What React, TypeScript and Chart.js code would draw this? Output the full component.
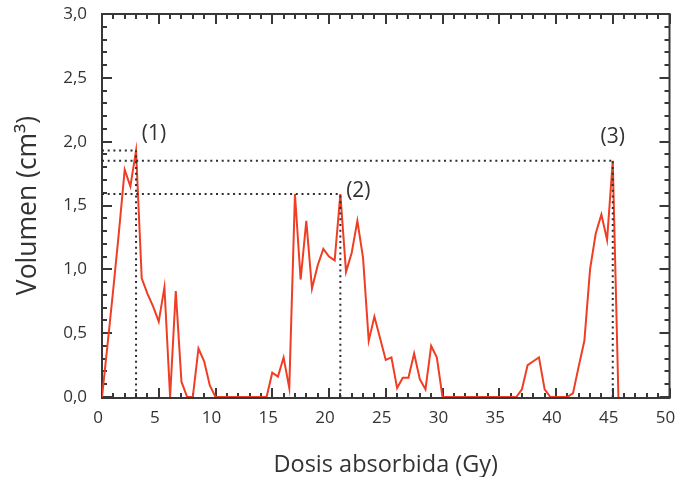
import React, { useEffect, useRef } from 'react';
import { Chart, registerables } from 'chart.js';

Chart.register(...registerables);

// Absorbed dose (Gy) sampled every 0.5 Gy
const doseGy = [
  0, 0.5, 1, 1.5, 2, 2.5, 3, 3.5, 4, 4.5, 5, 5.5, 6, 6.5, 7, 7.5, 8, 8.5, 9, 9.5,
  10, 10.5, 11, 11.5, 12, 12.5, 13, 13.5, 14, 14.5, 15, 15.5, 16, 16.5, 17, 17.5, 18, 18.5, 19, 19.5,
  20, 20.5, 21, 21.5, 22, 22.5, 23, 23.5, 24, 24.5, 25, 25.5, 26, 26.5, 27, 27.5, 28, 28.5, 29, 29.5,
  30, 30.5, 31, 31.5, 32, 32.5, 33, 33.5, 34, 34.5, 35, 35.5, 36, 36.5, 37, 37.5, 38, 38.5, 39, 39.5,
  40, 40.5, 41, 41.5, 42, 42.5, 43, 43.5, 44, 44.5, 45, 45.5,
];

// Volume (cm3)
const volumeCm3 = [
  0, 0.42, 0.85, 1.3, 1.78, 1.65, 1.93, 0.93, 0.81, 0.71, 0.59, 0.86, 0, 0.83, 0.12, 0, 0, 0.38, 0.28, 0.09,
  0, 0, 0, 0, 0, 0, 0, 0, 0, 0, 0.19, 0.16, 0.31, 0.07, 1.59, 0.92, 1.38, 0.85, 1.03, 1.16,
  1.1, 1.07, 1.59, 0.98, 1.13, 1.38, 1.09, 0.44, 0.63, 0.46, 0.29, 0.31, 0.07, 0.15, 0.15, 0.34, 0.14, 0.06, 0.4, 0.31,
  0, 0, 0, 0, 0, 0, 0, 0, 0, 0, 0, 0, 0, 0, 0.06, 0.25, 0.28, 0.31, 0.06, 0,
  0, 0, 0, 0.03, 0.24, 0.44, 1.0, 1.28, 1.43, 1.23, 1.85, 0,
];

// Marked peaks
const peakDose = [3, 21, 45];
const peakVolume = [1.93, 1.59, 1.85];
const peakLabels = ['(1)', '(2)', '(3)'];

const xMin = 0;
const xMax = 50;
const xStep = 5;
const yMin = 0;
const yMax = 3;
const yStep = 0.5;

const xTitle = 'Dosis absorbida (Gy)';
const yTitle = 'Volumen (cm³)';

const TEXT = '#333333';
const AXIS = '#383838';
const RED = '#ef3e23';
const FONT = '"Open Sans", "Noto Sans", sans-serif';

const labelOffsets = [
  [18, -17],
  [18, -3],
  [0, -24],
];

const frameTicks = {
  id: 'frameTicks',
  beforeDatasetsDraw(chart: any) {
    const { ctx, chartArea } = chart;
    const { left, right, top, bottom } = chartArea;
    const xs = chart.scales.x;
    const ys = chart.scales.y;
    ctx.save();
    ctx.strokeStyle = AXIS;
    ctx.lineWidth = 2;
    ctx.lineCap = 'butt';
    ctx.strokeRect(left, top, right - left, bottom + 1 - top);
    ctx.beginPath();
    for (let v = xMin; v <= xMax; v += 1) {
      const px = Math.round(xs.getPixelForValue(v));
      const len = v % xStep === 0 ? 10 : 5;
      ctx.moveTo(px, bottom + 1);
      ctx.lineTo(px, bottom + 1 - len);
      ctx.moveTo(px, top);
      ctx.lineTo(px, top + len);
    }
    for (let i = 0; i <= Math.round((yMax - yMin) * 10); i++) {
      const v = yMin + i / 10;
      const py = Math.round(ys.getPixelForValue(v));
      const len = i % 5 === 0 ? 10 : 5;
      ctx.moveTo(left, py);
      ctx.lineTo(left + len, py);
      ctx.moveTo(right, py);
      ctx.lineTo(right - len, py);
    }
    ctx.stroke();
    ctx.restore();
  },
  afterDatasetsDraw(chart: any) {
    const { ctx } = chart;
    const xs = chart.scales.x;
    const ys = chart.scales.y;
    ctx.save();
    ctx.fillStyle = TEXT;
    ctx.font = `21px ${FONT}`;
    ctx.textAlign = 'center';
    ctx.textBaseline = 'middle';
    peakLabels.forEach((t, i) => {
      const px = xs.getPixelForValue(peakDose[i]) + labelOffsets[i][0];
      const py = ys.getPixelForValue(peakVolume[i]) + labelOffsets[i][1];
      ctx.fillText(t, px, py);
    });
    ctx.restore();
  },
};

export default function App() {
  const canvasRef = useRef<HTMLCanvasElement | null>(null);

  useEffect(() => {
    const canvas = canvasRef.current;
    if (!canvas) return;

    const dotted = {
      borderColor: '#2e2e2e',
      borderWidth: 2,
      borderDash: [2, 3.7],
      borderCapStyle: 'butt' as const,
      pointRadius: 0,
      fill: false,
      tension: 0,
    };

    const refSets: any[] = [];
    peakDose.forEach((px, i) => {
      const py = peakVolume[i];
      refSets.push({ ...dotted, data: [{ x: xMin, y: py }, { x: px, y: py }] });
      refSets.push({ ...dotted, data: [{ x: px, y: yMin }, { x: px, y: py }] });
    });

    const chart = new Chart(canvas, {
      type: 'line',
      data: {
        datasets: [
          ...refSets,
          {
            data: doseGy.map((x, i) => ({ x, y: volumeCm3[i] })),
            borderColor: RED,
            borderWidth: 2,
            pointRadius: 0,
            tension: 0,
            fill: false,
          },
        ],
      },
      options: {
        responsive: false,
        animation: false,
        devicePixelRatio: 1,
        layout: { padding: { left: 0, right: 7.5, top: 14, bottom: 0 } },
        plugins: {
          legend: { display: false },
          tooltip: { enabled: false },
        },
        scales: {
          x: {
            type: 'linear',
            min: xMin,
            max: xMax,
            grid: { display: false, drawTicks: false },
            border: { display: false },
            ticks: {
              stepSize: xStep,
              autoSkip: false,
              maxRotation: 0,
              padding: 11,
              labelOffset: -4,
              color: TEXT,
              font: { family: FONT, size: 17 },
              callback: (v: any) => String(v),
            },
            title: {
              display: true,
              text: xTitle,
              color: TEXT,
              font: { family: FONT, size: 23.5, lineHeight: 1 },
              padding: { top: 0, bottom: 0 },
            },
            afterFit: (s: any) => {
              s.height = 80;
              s.paddingLeft = 0;
              s.paddingRight = 0;
            },
          },
          y: {
            type: 'linear',
            min: yMin,
            max: yMax,
            grid: { display: false, drawTicks: false },
            border: { display: false },
            ticks: {
              stepSize: yStep,
              padding: 15,
              color: TEXT,
              font: { family: FONT, size: 17 },
              callback: (v: any) => Number(v).toFixed(1).replace('.', ','),
            },
            title: {
              display: true,
              text: yTitle,
              color: TEXT,
              font: { family: FONT, size: 26.5, lineHeight: 1 },
              padding: { top: 15, bottom: 0 },
            },
            afterFit: (s: any) => {
              s.width = 102;
              s.paddingTop = 0;
              s.paddingBottom = 0;
            },
          },
        },
      },
      plugins: [frameTicks],
    });

    return () => chart.destroy();
  }, []);

  return (
    <div style={{ position: 'fixed', left: 0, top: 0, width: 677, height: 477, background: '#fff' }}>
      <canvas ref={canvasRef} width={677} height={477} style={{ display: 'block' }} />
    </div>
  );
}
